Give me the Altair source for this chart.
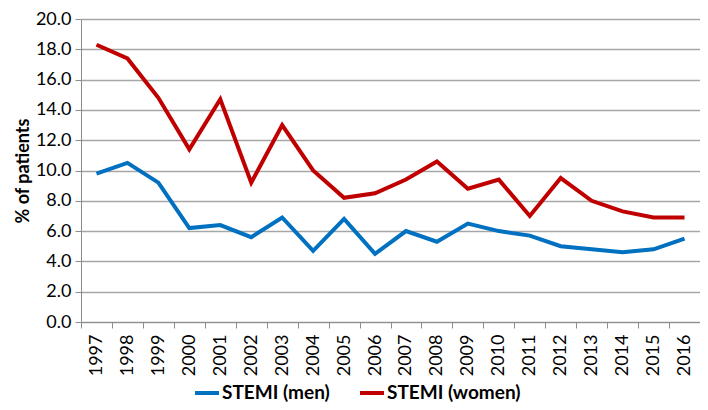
import altair as alt
import pandas as pd

years = [str(y) for y in range(1997, 2017)]
men = [9.8, 10.5, 9.2, 6.2, 6.4, 5.6, 6.9, 4.7, 6.8, 4.5, 6.0, 5.3, 6.5, 6.0, 5.7, 5.0, 4.8, 4.6, 4.8, 5.5]
women = [18.3, 17.4, 14.8, 11.4, 14.7, 9.2, 13.0, 10.0, 8.2, 8.5, 9.4, 10.6, 8.8, 9.4, 7.0, 9.5, 8.0, 7.3, 6.9, 6.9]
series = ["STEMI (men)", "STEMI (women)"]
colors = ["#0070C0", "#C00000"]

rows = []
for y, m, w in zip(years, men, women):
    rows.append({"year": y, "value": m, "series": series[0]})
    rows.append({"year": y, "value": w, "series": series[1]})
df = pd.DataFrame(rows)

FONT = "Lato"

chart = alt.Chart(df).mark_line(strokeWidth=4).encode(
    x=alt.X("year:O", sort=years, title=None,
            scale=alt.Scale(paddingInner=0, paddingOuter=0),
            axis=alt.Axis(labelAngle=270, labelAlign="right", labelBaseline="middle",
                          tickBand="extent", tickSize=6, labelPadding=6,
                          domainColor="#8c8c8c", tickColor="#8c8c8c",
                          labelFontSize=18, labelFont=FONT, labelColor="#000000")),
    y=alt.Y("value:Q", title="% of patients",
            scale=alt.Scale(domain=[0, 20], nice=False),
            axis=alt.Axis(values=list(range(0, 21, 2)), format=".1f", tickSize=6,
                          domainColor="#8c8c8c", tickColor="#8c8c8c",
                          gridColor="#a6a6a6", gridWidth=1.5,
                          labelFontSize=18, labelFont=FONT, labelColor="#000000",
                          labelPadding=4,
                          titleFontSize=18, titleFont=FONT, titleFontWeight="bold",
                          titleColor="#000000", titlePadding=3)),
    color=alt.Color("series:N", sort=series,
                    scale=alt.Scale(domain=series, range=colors),
                    legend=alt.Legend(title=None, orient="none", direction="horizontal",
                                      legendX=112, legendY=360,
                                      symbolType="stroke", symbolStrokeWidth=4,
                                      symbolSize=576, columnPadding=22,
                                      labelFontSize=19, labelFont=FONT,
                                      labelFontWeight="bold", labelColor="#000000",
                                      labelOffset=1)),
).properties(
    width=619, height=303,
    autosize=alt.AutoSizeParams(type="none"),
    padding={"left": 73, "top": 11, "right": 0, "bottom": 80},
).configure_view(stroke=None).configure(background="white")

chart.save("out.html", embed_options={"renderer": "svg", "actions": False})
